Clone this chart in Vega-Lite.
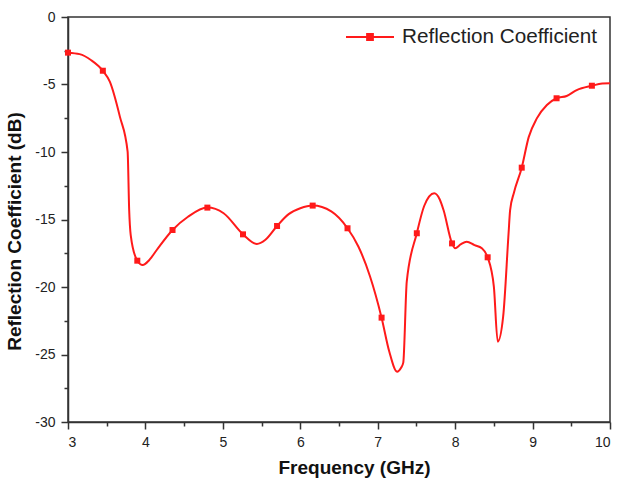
{
  "$schema": "https://vega.github.io/schema/vega-lite/v6.json",
  "width": 542,
  "height": 405,
  "autosize": {"type": "none"},
  "padding": {"left": 68, "top": 17, "right": 8, "bottom": 57},
  "background": "white",
  "config": {
    "font": "Liberation Sans",
    "view": {"stroke": "#333333", "strokeWidth": 1.5},
    "axis": {
      "domainColor": "#333333",
      "domainWidth": 1.5,
      "tickColor": "#333333",
      "tickWidth": 1.5,
      "grid": false,
      "labelFontSize": 14,
      "labelColor": "#222222",
      "titleFontSize": 19,
      "titleFontWeight": "bold",
      "titleColor": "#111111"
    }
  },
  "datasets": {
    "curve": [
      {"f": 3.00, "r": -2.64, "m": 1},
      {"f": 3.15, "r": -2.75, "m": 0},
      {"f": 3.30, "r": -3.2, "m": 0},
      {"f": 3.45, "r": -3.98, "m": 1},
      {"f": 3.54, "r": -4.79, "m": 0},
      {"f": 3.67, "r": -7.38, "m": 0},
      {"f": 3.77, "r": -9.98, "m": 0},
      {"f": 3.79, "r": -14.3, "m": 0},
      {"f": 3.81, "r": -16.15, "m": 0},
      {"f": 3.895, "r": -18.05, "m": 1},
      {"f": 3.965, "r": -18.37, "m": 0},
      {"f": 4.05, "r": -18.0, "m": 0},
      {"f": 4.146, "r": -17.26, "m": 0},
      {"f": 4.35, "r": -15.78, "m": 1},
      {"f": 4.55, "r": -14.8, "m": 0},
      {"f": 4.80, "r": -14.12, "m": 1},
      {"f": 5.01, "r": -14.54, "m": 0},
      {"f": 5.26, "r": -16.1, "m": 1},
      {"f": 5.44, "r": -16.81, "m": 0},
      {"f": 5.55, "r": -16.5, "m": 0},
      {"f": 5.70, "r": -15.48, "m": 1},
      {"f": 5.85, "r": -14.6, "m": 0},
      {"f": 6.00, "r": -14.17, "m": 0},
      {"f": 6.16, "r": -13.97, "m": 1},
      {"f": 6.40, "r": -14.4, "m": 0},
      {"f": 6.61, "r": -15.65, "m": 1},
      {"f": 6.75, "r": -17.0, "m": 0},
      {"f": 6.90, "r": -19.2, "m": 0},
      {"f": 7.05, "r": -22.27, "m": 1},
      {"f": 7.15, "r": -24.8, "m": 0},
      {"f": 7.25, "r": -26.27, "m": 0},
      {"f": 7.30, "r": -26.0, "m": 0},
      {"f": 7.33, "r": -25.6, "m": 0},
      {"f": 7.375, "r": -19.6, "m": 0},
      {"f": 7.505, "r": -16.02, "m": 1},
      {"f": 7.60, "r": -14.0, "m": 0},
      {"f": 7.73, "r": -13.06, "m": 0},
      {"f": 7.80, "r": -13.5, "m": 0},
      {"f": 7.85, "r": -14.3, "m": 0},
      {"f": 7.96, "r": -16.77, "m": 1},
      {"f": 8.00, "r": -17.13, "m": 0},
      {"f": 8.07, "r": -16.85, "m": 0},
      {"f": 8.15, "r": -16.64, "m": 0},
      {"f": 8.25, "r": -16.9, "m": 0},
      {"f": 8.345, "r": -17.13, "m": 0},
      {"f": 8.42, "r": -17.8, "m": 1},
      {"f": 8.50, "r": -19.97, "m": 0},
      {"f": 8.55, "r": -24.05, "m": 0},
      {"f": 8.62, "r": -22.2, "m": 0},
      {"f": 8.69, "r": -16.02, "m": 0},
      {"f": 8.71, "r": -14.3, "m": 0},
      {"f": 8.76, "r": -13.0, "m": 0},
      {"f": 8.86, "r": -11.16, "m": 1},
      {"f": 8.95, "r": -8.9, "m": 0},
      {"f": 9.055, "r": -7.51, "m": 0},
      {"f": 9.185, "r": -6.52, "m": 0},
      {"f": 9.31, "r": -6.02, "m": 1},
      {"f": 9.44, "r": -5.85, "m": 0},
      {"f": 9.57, "r": -5.41, "m": 0},
      {"f": 9.766, "r": -5.09, "m": 1},
      {"f": 9.90, "r": -4.93, "m": 0},
      {"f": 10.00, "r": -4.91, "m": 0}
    ]
  },
  "data": {"name": "curve"},
  "layer": [
    {
      "mark": {"type": "line", "interpolate": "monotone", "strokeWidth": 2, "clip": true},
      "encoding": {
        "x": {
          "field": "f", "type": "quantitative",
          "scale": {"domain": [3, 10], "nice": false, "zero": false},
          "axis": {"values": [3, 4, 5, 6, 7, 8, 9, 10], "tickSize": 7, "labelPadding": 6, "title": "Frequency (GHz)", "titlePadding": 9, "titleX": 286}
        },
        "y": {
          "field": "r", "type": "quantitative",
          "scale": {"domain": [-30, 0], "nice": false, "zero": false},
          "axis": {"values": [-30, -25, -20, -15, -10, -5, 0], "tickSize": 7, "labelPadding": 6, "labelExpr": "'' + datum.value", "title": "Reflection Coefficient (dB)", "titlePadding": 10, "titleY": 214}
        },
        "color": {
          "datum": "Reflection Coefficient",
          "scale": {"range": ["#ff1a1a"]},
          "legend": {
            "title": null,
            "orient": "none",
            "legendX": 277,
            "legendY": -5,
            "padding": 0,
            "labelFontSize": 20.7,
            "labelLimit": 400,
            "labelColor": "#222222",
            "labelOffset": 7,
            "symbolType": "M-1,0H1M-0.12,-0.12H0.12V0.12H-0.12Z",
            "symbolSize": 2304,
            "symbolStrokeWidth": 2,
            "encode": {
              "symbols": {"update": {"fill": {"value": "#ff1a1a"}, "stroke": {"value": "#ff1a1a"}, "opacity": {"value": 1}}}
            }
          }
        }
      }
    },
    {
      "transform": [{"filter": "datum.m == 1"}],
      "mark": {"type": "point", "shape": "square", "filled": true, "size": 36, "color": "#ff1a1a", "opacity": 1},
      "encoding": {
        "x": {
          "field": "f", "type": "quantitative",
          "axis": {"values": [3.5, 4.5, 5.5, 6.5, 7.5, 8.5, 9.5], "tickSize": 4, "labels": false, "domain": false, "title": null, "orient": "bottom"}
        },
        "y": {
          "field": "r", "type": "quantitative",
          "axis": {"values": [-27.5, -22.5, -17.5, -12.5, -7.5, -2.5], "tickSize": 4, "labels": false, "domain": false, "title": null, "orient": "left"}
        }
      }
    }
  ],
  "resolve": {"axis": {"x": "independent", "y": "independent"}}
}
